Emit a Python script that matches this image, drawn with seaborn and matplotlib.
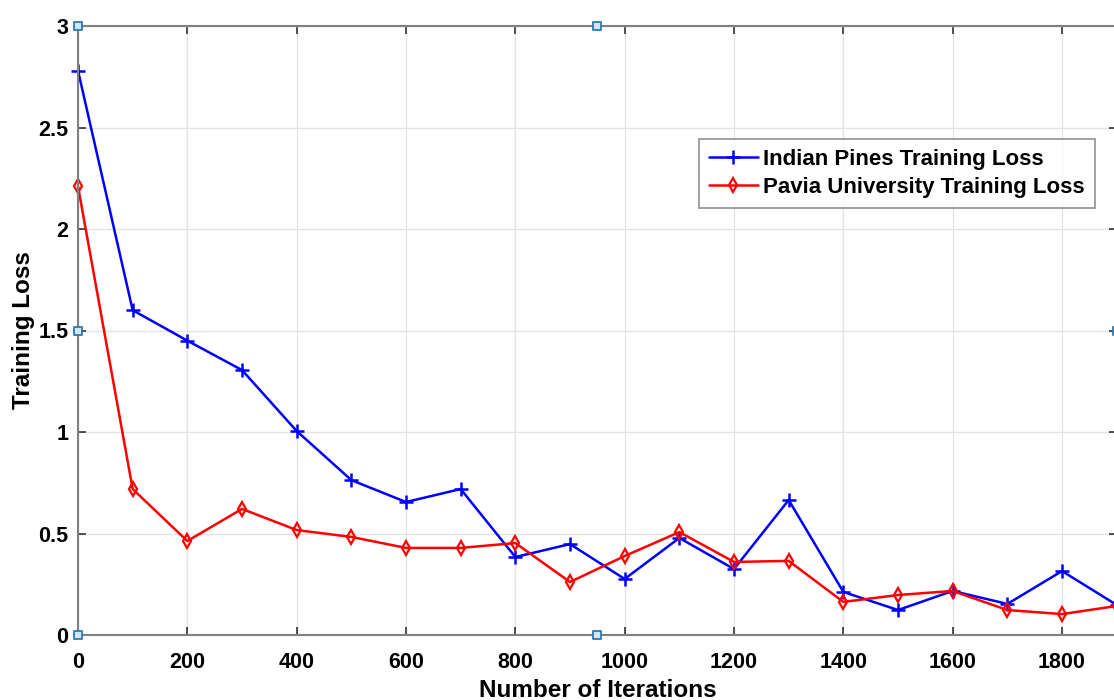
import numpy as np
import pandas as pd
import seaborn as sns
import matplotlib
matplotlib.use("Agg")
import matplotlib.pyplot as plt
from matplotlib.lines import Line2D

iterations = [0, 100, 200, 300, 400, 500, 600, 700, 800, 900, 1000,
              1100, 1200, 1300, 1400, 1500, 1600, 1700, 1800, 1900]
indian_pines = [2.78, 1.60, 1.45, 1.305, 1.005, 0.763, 0.655, 0.719, 0.384, 0.448,
                0.276, 0.478, 0.325, 0.665, 0.212, 0.123, 0.217, 0.153, 0.315, 0.148]
pavia = [2.21, 0.719, 0.463, 0.621, 0.517, 0.483, 0.429, 0.429, 0.453, 0.261,
         0.389, 0.507, 0.360, 0.365, 0.163, 0.197, 0.217, 0.123, 0.103, 0.143]
labels = ["Indian Pines Training Loss", "Pavia University Training Loss"]
xticks = [0, 200, 400, 600, 800, 1000, 1200, 1400, 1600, 1800]
yticks = [0, 0.5, 1, 1.5, 2, 2.5, 3]
ytick_labels = ["0", "0.5", "1", "1.5", "2", "2.5", "3"]

sns.set_theme(style="white")
plt.rcParams['font.family'] = ['Liberation Sans', 'DejaVu Sans']
plt.rcParams['font.weight'] = 'bold'
plt.rcParams['text.color'] = 'black'
plt.rcParams['axes.labelcolor'] = 'black'
plt.rcParams['xtick.color'] = 'black'
plt.rcParams['ytick.color'] = 'black'

fig = plt.figure(figsize=(11.14, 7.0), dpi=100)
ax = fig.add_axes([78 / 1114, 65 / 700, (1116.7 - 78) / 1114, 609 / 700])

sns.lineplot(x=iterations, y=indian_pines, color='#0000ff', marker='+',
             linewidth=1.8, markersize=10, markeredgewidth=1.8,
             markeredgecolor='#0000ff', ax=ax)
sns.lineplot(x=iterations, y=pavia, color='#ff0000', marker='d',
             linewidth=1.8, markersize=7.5, markeredgewidth=1.6,
             markerfacecolor='none', markeredgecolor='#ff0000', ax=ax)
for line in ax.lines:
    line.set_clip_on(False)

ax.set_xlim(0, 1900)
ax.set_ylim(0, 3)
ax.set_xticks(xticks)
ax.set_xticklabels([str(t) for t in xticks], fontsize=15.5, fontweight='bold')
ax.set_yticks(yticks)
ax.set_yticklabels(ytick_labels, fontsize=15.5, fontweight='bold')
ax.grid(True, color='#e3e3e3', linewidth=1.0)
ax.set_axisbelow(True)
ax.tick_params(axis='x', direction='in', length=6, width=1.2, color='#333333', pad=12.5,
               top=True, bottom=True)
ax.tick_params(axis='y', direction='in', length=6, width=1.2, color='#333333', pad=7,
               left=True, right=True)
for s in ax.spines.values():
    s.set_color('#808080')
    s.set_linewidth(1.5)

ax.set_xlabel("Number of Iterations", fontsize=17.5, fontweight='bold', labelpad=4)
ax.set_ylabel("Training Loss", fontsize=17.5, fontweight='bold', labelpad=2)

# selection handles
hx = [0, 950, 0, 0, 950, 1900]
hy = [3, 3, 1.5, 0, 0, 1.5]
ax.scatter(hx, hy, marker='s', s=30, facecolor='#d6e4f0', edgecolor='#2a7ab8',
           linewidth=1.3, zorder=10, clip_on=False)

handles = [Line2D([], [], color='#0000ff', marker='+', lw=1.8, ms=10, mew=1.8),
           Line2D([], [], color='#ff0000', marker='d', lw=1.8, ms=7, mew=1.6,
                  markerfacecolor='none')]
leg = ax.legend(handles, labels, loc='upper left',
                bbox_to_anchor=((699 - 78) / 1038.7, (635 - 139) / 609),
                prop={'size': 16, 'weight': 'bold'}, frameon=True,
                fancybox=False, handlelength=2.2, handletextpad=0.25,
                borderpad=0.45, labelspacing=0.3, borderaxespad=0)
leg.get_frame().set_edgecolor('#808080')
leg.get_frame().set_linewidth(1.3)

fig.savefig("out.png", dpi=100)
